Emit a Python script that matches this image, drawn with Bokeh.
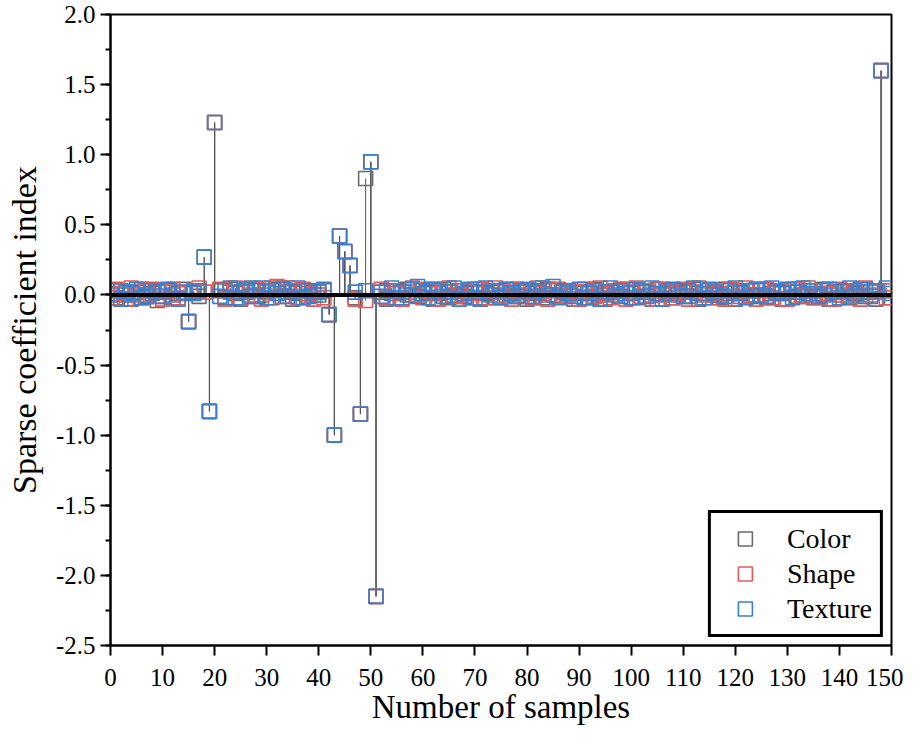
from bokeh.plotting import figure
from bokeh.models import (ColumnDataSource, FixedTicker, Span, Legend, LegendItem,
                          Range1d, PrintfTickFormatter)
from bokeh.embed import file_html
from bokeh.resources import INLINE

samples = list(range(0, 151))

color_vals = [
    0.01, -0.02, 0.03, 0.00, -0.03, 0.02, 0.04, -0.01, 0.01, -0.04,
    0.02, 0.03, -0.02, 0.01, 0.04, -0.19, 0.02, -0.01, 0.27, -0.83,
    1.23, 0.03, -0.02, 0.04, 0.01, -0.03, 0.02, 0.05, -0.01, 0.00,
    0.03, -0.02, 0.04, 0.05, 0.02, -0.03, 0.01, 0.03, -0.01, 0.02,
    0.00, 0.03, -0.14, -1.00, 0.42, 0.31, 0.21, -0.02, -0.85, 0.83,
    0.95, -2.15, 0.02, -0.03, 0.01, 0.03, -0.02, 0.04, 0.00, -0.01,
    0.03, 0.02, -0.03, 0.01, 0.04, -0.02, 0.00, 0.03, -0.01, 0.02,
    0.04, -0.03, 0.01, 0.02, -0.02, 0.03, 0.00, 0.04, -0.01, 0.02,
    -0.03, 0.01, 0.03, -0.02, 0.04, 0.00, -0.01, 0.02, 0.03, -0.03,
    0.01, 0.02, -0.02, 0.04, 0.00, -0.03, 0.02, 0.03, -0.01, 0.04,
    0.01, -0.02, 0.03, 0.02, -0.03, 0.04, 0.00, 0.01, -0.02, 0.03,
    0.02, -0.01, 0.04, -0.03, 0.01, 0.03, 0.00, -0.02, 0.04, 0.01,
    -0.03, 0.02, 0.03, -0.01, 0.00, 0.04, -0.02, 0.01, 0.03, -0.03,
    0.02, 0.04, -0.01, 0.00, 0.03, -0.02, 0.01, 0.04, -0.03, 0.02,
    0.00, 0.03, -0.02, 0.01, 0.04, -0.01, 0.02, -0.03, 1.60, 0.03,
    -0.02,
]

shape_vals = [
    -0.02, 0.04, 0.01, -0.03, 0.05, 0.00, -0.02, 0.03, 0.04, -0.01,
    -0.03, 0.02, 0.04, -0.02, 0.01, -0.19, 0.03, 0.05, 0.02, -0.83,
    1.23, 0.04, -0.03, 0.02, 0.05, -0.02, 0.03, 0.00, 0.04, -0.03,
    0.02, 0.05, 0.06, -0.01, 0.05, 0.03, -0.02, 0.04, 0.01, -0.03,
    0.03, -0.02, -0.14, -1.00, 0.42, 0.31, 0.21, -0.03, -0.85, -0.04,
    0.95, -2.15, 0.04, -0.02, 0.03, 0.01, -0.03, 0.02, 0.05, 0.00,
    -0.02, 0.04, 0.01, -0.03, 0.02, 0.05, -0.01, 0.00, 0.03, -0.02,
    0.01, 0.04, -0.02, 0.03, 0.05, -0.01, 0.02, -0.03, 0.04, 0.00,
    0.02, -0.02, 0.05, 0.01, -0.03, 0.03, 0.04, -0.01, 0.00, 0.02,
    -0.03, 0.04, 0.02, -0.01, 0.05, 0.01, -0.02, 0.03, 0.04, -0.03,
    0.02, 0.05, -0.01, 0.03, 0.00, -0.03, 0.04, 0.02, -0.02, 0.01,
    0.04, -0.03, 0.02, 0.05, 0.00, -0.02, 0.03, 0.01, -0.03, 0.04,
    0.02, -0.01, 0.05, 0.00, -0.03, 0.03, 0.04, -0.02, 0.01, 0.03,
    -0.03, 0.02, 0.04, -0.01, 0.05, 0.00, -0.02, 0.03, 0.01, -0.03,
    0.04, 0.02, -0.01, 0.03, -0.03, 0.05, 0.00, 0.02, 1.60, -0.02,
    0.03,
]

texture_vals = [
    0.00, 0.03, -0.03, 0.02, 0.01, 0.04, -0.02, 0.00, 0.03, 0.02,
    -0.01, 0.04, 0.00, -0.03, 0.02, -0.19, 0.01, 0.03, 0.27, -0.83,
    1.23, -0.01, 0.03, 0.05, -0.02, 0.02, 0.04, -0.01, 0.03, 0.05,
    -0.02, 0.03, 0.01, 0.04, -0.01, 0.02, 0.05, -0.02, 0.03, 0.00,
    0.02, 0.04, -0.14, -1.00, 0.42, 0.31, 0.21, 0.02, -0.85, 0.03,
    0.95, -2.15, -0.01, 0.03, 0.05, -0.02, 0.02, 0.00, 0.04, 0.06,
    0.01, -0.02, 0.04, 0.03, -0.01, 0.02, 0.05, -0.03, 0.01, 0.04,
    -0.02, 0.02, 0.05, 0.00, 0.03, -0.02, 0.04, 0.01, -0.01, 0.03,
    0.04, -0.01, 0.02, 0.05, 0.00, 0.06, -0.02, 0.03, 0.01, -0.01,
    0.04, -0.02, 0.01, 0.03, -0.03, 0.02, 0.05, 0.00, 0.03, 0.01,
    -0.02, 0.04, 0.02, -0.01, 0.05, 0.01, -0.03, 0.03, 0.04, 0.00,
    -0.01, 0.03, 0.05, 0.01, -0.02, 0.04, 0.02, 0.00, -0.01, 0.03,
    0.05, 0.01, -0.02, 0.03, 0.04, 0.00, -0.01, 0.05, 0.02, 0.01,
    0.04, -0.02, 0.02, 0.05, 0.01, 0.03, -0.01, 0.00, 0.04, 0.02,
    -0.02, 0.03, 0.05, 0.00, 0.02, 0.04, -0.01, 0.03, 1.60, 0.05,
    0.01,
]

series_names = ["Color", "Shape", "Texture"]
series_colors = ["#6b6b6b", "#e05a5a", "#3b7fd0"]
series_values = [color_vals, shape_vals, texture_vals]

x_ticks = list(range(0, 151, 10))
y_ticks = [-2.5, -2.0, -1.5, -1.0, -0.5, 0.0, 0.5, 1.0, 1.5, 2.0]
y_minor = [v / 4 for v in range(-10, 9)]

FONT = "Liberation Serif"

p = figure(width=903, height=733, output_backend="svg", toolbar_location=None,
           x_range=Range1d(0, 150), y_range=Range1d(-2.5, 2.0),
           min_border_left=110, min_border_right=12, min_border_top=14,
           min_border_bottom=88)
p.grid.visible = False
p.background_fill_color = "white"
p.outline_line_color = "black"
p.outline_line_width = 2
p.outline_line_alpha = 1

# thick baseline at zero
p.add_layout(Span(location=0, dimension="width", line_color="black", line_width=4))

items = []
for name, col, vals in zip(series_names, series_colors, series_values):
    src = ColumnDataSource(dict(x=samples, y=vals, y0=[0.0] * len(vals)))
    p.segment(x0="x", y0="y0", x1="x", y1="y", source=src,
              line_color="#555555", line_width=1)
for name, col, vals in zip(series_names, series_colors, series_values):
    src = ColumnDataSource(dict(x=samples, y=vals))
    r = p.scatter(x="x", y="y", source=src, marker="square", size=14,
                  fill_color=None, line_color=col, line_width=1.6)
    items.append(LegendItem(label=name, renderers=[r]))

legend = Legend(items=items, location="bottom_right")
legend.border_line_color = "black"
legend.border_line_width = 3
legend.border_line_alpha = 1
legend.label_text_font = FONT
legend.label_text_font_size = "28px"
legend.label_text_color = "black"
legend.label_standoff = 16
legend.glyph_width = 52
legend.glyph_height = 35
legend.label_height = 35
legend.spacing = 0
legend.padding = 8
legend.margin = 8
legend.background_fill_alpha = 1
p.add_layout(legend)

p.xaxis.ticker = FixedTicker(ticks=x_ticks)
p.yaxis.ticker = FixedTicker(ticks=y_ticks, minor_ticks=y_minor)
p.yaxis.formatter = PrintfTickFormatter(format="%.1f")

p.axis.axis_line_width = 2
p.axis.axis_line_color = "black"
p.axis.major_tick_line_width = 2
p.axis.major_tick_line_color = "black"
p.axis.major_tick_in = 0
p.axis.major_tick_out = 10
p.axis.minor_tick_line_width = 2
p.axis.minor_tick_line_color = "black"
p.axis.minor_tick_in = 0
p.axis.minor_tick_out = 5
p.axis.major_label_text_font = FONT
p.axis.major_label_text_font_size = "25px"
p.axis.major_label_text_color = "black"
p.axis.axis_label_text_font = FONT
p.axis.axis_label_text_font_style = "normal"
p.axis.axis_label_text_color = "black"
p.xaxis.axis_label_text_font_size = "33px"
p.yaxis.axis_label_text_font_size = "34px"
p.xaxis.minor_tick_line_color = None
p.xaxis.axis_label = "Number of samples"
p.yaxis.axis_label = "Sparse coefficient index"
p.xaxis.major_label_standoff = 13
p.yaxis.major_label_standoff = 5
p.xaxis.axis_label_standoff = 0
p.yaxis.axis_label_standoff = 10

open("out.html", "w").write(file_html(p, INLINE))
